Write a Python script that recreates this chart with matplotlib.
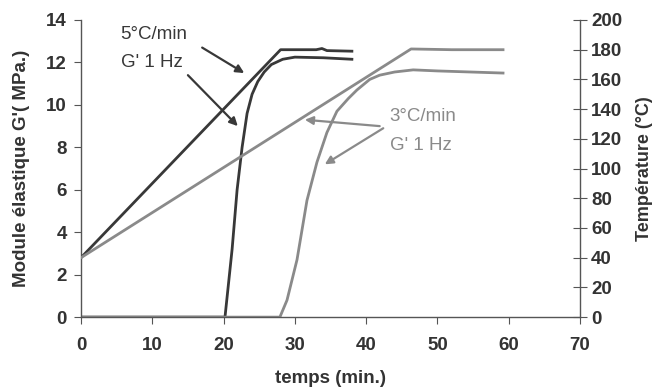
import matplotlib.pyplot as plt

# Temperature ramps (°C, right axis)
t_temp5 = [0, 28, 33, 33.8, 34.5, 38]
temp5 = [40, 180, 180, 180.8, 179.4, 179]
t_temp3 = [0, 46.3, 52, 59.2]
temp3 = [40, 180.5, 180, 180]

# Elastic modulus G' (MPa, left axis)
t_g5 = [0, 20.2, 21.2, 21.9, 22.6, 23.3, 24.0, 24.8, 25.7, 26.7, 28.3, 30, 34, 38]
g5 = [0, 0, 3.2, 6.0, 8.0, 9.6, 10.5, 11.1, 11.55, 11.9, 12.15, 12.25, 12.22, 12.15]
t_g3 = [0, 27.9, 28.9, 30.3, 31.7, 33.1, 34.5, 35.9, 37.5, 38.7, 40.5, 41.9, 44, 46.6, 50, 54.6, 59.2]
g3 = [0, 0, 0.8, 2.7, 5.5, 7.3, 8.7, 9.7, 10.3, 10.7, 11.2, 11.4, 11.55, 11.65, 11.6, 11.55, 11.5]

x_ticks = [0, 10, 20, 30, 40, 50, 60, 70]
g_ticks = [0, 2, 4, 6, 8, 10, 12, 14]
temp_ticks = [0, 20, 40, 60, 80, 100, 120, 140, 160, 180, 200]

dark = '#383838'
light = '#8a8a8a'
txt = '#333333'

plt.rcParams['font.family'] = ['Liberation Sans', 'DejaVu Sans']

fig = plt.figure(figsize=(6.61, 3.92), dpi=100)
ax = fig.add_axes([0.1225, 0.191, 0.755, 0.758])
ax2 = ax.twinx()

ax.plot(t_g5, g5, color=dark, lw=2)
ax.plot(t_g3, g3, color=light, lw=2)
ax2.plot(t_temp5, temp5, color=dark, lw=2)
ax2.plot(t_temp3, temp3, color=light, lw=2)

ax.set_xlim(0, 70)
ax.set_ylim(0, 14)
ax2.set_ylim(0, 200)
ax.set_xticks(x_ticks)
ax.set_yticks(g_ticks)
ax2.set_yticks(temp_ticks)

for a in (ax, ax2):
    a.spines['top'].set_visible(False)
    for s in a.spines.values():
        s.set_color('#555555')
        s.set_linewidth(1)
ax.spines['right'].set_visible(False)
ax2.spines['left'].set_visible(False)
ax2.spines['bottom'].set_visible(False)

ax.tick_params(axis='x', direction='out', length=5, color='#555555', labelsize=13.5,
               labelcolor=txt, pad=9)
ax.tick_params(axis='y', direction='out', length=5, color='#555555', labelsize=13.5,
               labelcolor=txt, pad=5)
ax2.tick_params(axis='y', direction='inout', length=10, color='#555555', labelsize=13.5,
                labelcolor=txt, pad=3)
for lab in ax.get_xticklabels() + ax.get_yticklabels() + ax2.get_yticklabels():
    lab.set_fontweight('bold')

ax.set_xlabel('temps (min.)', fontsize=13.5, fontweight='bold', color=txt, labelpad=12)
ax.set_ylabel("Module élastique G'( MPa.)", fontsize=13.5, fontweight='bold', color=txt, labelpad=12)
ax2.set_ylabel('Température (°C)', fontsize=13, fontweight='bold', color=txt, labelpad=10)

# annotations
ax.text(5.5, 13.3, '5°C/min', fontsize=13.5, color=dark, va='center', ha='left')
ax.text(5.6, 12.0, "G' 1 Hz", fontsize=13.5, color=dark, va='center', ha='left')
ax.text(43.3, 9.43, '3°C/min', fontsize=13.5, color=light, va='center', ha='left')
ax.text(43.3, 8.1, "G' 1 Hz", fontsize=13.5, color=light, va='center', ha='left')

arr = dict(arrowstyle='-|>', lw=1.6, mutation_scale=12, shrinkA=0, shrinkB=0)
ax.annotate('', xy=(22.9, 11.5), xytext=(17.0, 12.7), arrowprops=dict(color=dark, **arr))
ax.annotate('', xy=(22.0, 9.0), xytext=(15.0, 11.4), arrowprops=dict(color=dark, **arr))
ax.annotate('', xy=(31.4, 9.3), xytext=(41.9, 9.0), arrowprops=dict(color=light, **arr))
ax.annotate('', xy=(34.2, 7.2), xytext=(42.4, 8.9), arrowprops=dict(color=light, **arr))

fig.savefig('out.png', dpi=100)
